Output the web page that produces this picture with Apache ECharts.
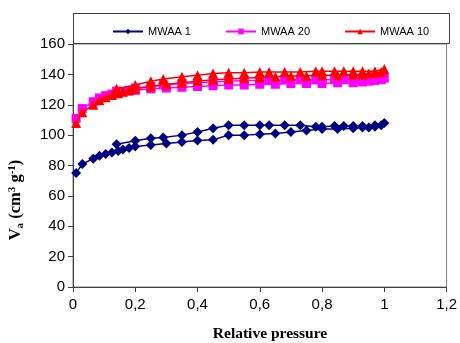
<!DOCTYPE html>
<html><head><meta charset="utf-8">
<script src="https://cdn.jsdelivr.net/npm/echarts@6/dist/echarts.min.js"></script>
<style>html,body{margin:0;padding:0;background:#fff}#c{width:460px;height:343px}</style>
</head><body><div id="c"></div>
<script>
const seriesNames = ['MWAA 1', 'MWAA 20', 'MWAA 10'];
const xTicks = [0, 0.2, 0.4, 0.6, 0.8, 1, 1.2];
const yTicks = [0, 20, 40, 60, 80, 100, 120, 140, 160];
// adsorption branch relative pressures
const pAds = [0.01,0.03,0.065,0.085,0.105,0.125,0.145,0.16,0.18,0.2,0.25,0.3,0.35,0.4,0.45,0.5,0.55,0.6,0.65,0.7,0.75,0.8,0.85,0.9,0.93,0.95,0.97,0.99,1.0];
// desorption branch relative pressures
const pDes = [0.97,0.93,0.9,0.87,0.84,0.8,0.78,0.73,0.68,0.63,0.6,0.55,0.5,0.45,0.4,0.35,0.29,0.25,0.2,0.14];
const mwaa1Ads = [75,81,84.5,86.5,87.5,88.5,89.5,90.5,91.5,92.5,93.5,94.5,95.5,96.5,97,100,100,100.5,101,102,103,104,104,104.5,105,105,105.5,106.5,108];
const mwaa1Des = [106.5,106,106,106,106,105.5,105.5,106.5,106.5,106.5,106.5,106.5,106.5,104.5,102,100,98.5,98,96.3,94];
const mwaa20Ads = [111,117.5,122,124.5,126,127,128,128.5,129,129.5,130.5,131,131.5,132,132.5,133,133,133.5,133.5,134,134,134,134.5,134.5,135,135.5,136,136.5,137.5];
const mwaa20Des = [137,136.5,136.5,136.5,136.5,136.5,136.5,136.5,136.5,136,136,136,135.5,135,134.5,134,133,132,131,129];
const mwaa10Ads = [108,115,120,123,125,126.5,127.5,128.5,129.5,130.5,132,133.5,134.5,135.5,136.5,137,137.5,138,138.5,139,139,139.5,139.5,140,140,140.5,141,141.5,143.5];
const mwaa10Des = [142,142,142,142,142,142,142,141.5,141.5,141.5,141.5,141,141,140.5,139.5,138.5,137,135.5,133,130.5];

function build(ads, des) {
  const d = [];
  pAds.forEach((p, i) => d.push([p, ads[i]]));
  pDes.forEach((p, i) => d.push([p, des[i]]));
  return d;
}
const styles = [
  {color: '#000080', symbol: 'diamond', size: 10},
  {color: '#FF00FF', symbol: 'rect', size: 9},
  {color: '#FF0000', symbol: 'triangle', size: 10}
];
const datas = [build(mwaa1Ads, mwaa1Des), build(mwaa20Ads, mwaa20Des), build(mwaa10Ads, mwaa10Des)];

const chart = echarts.init(document.getElementById('c'), null, {renderer: 'canvas'});
chart.setOption({
  animation: false,
  backgroundColor: '#fff',
  grid: {left: 73, right: 12, top: 44, bottom: 56, show: true, borderColor: '#808080', borderWidth: 1},
  legend: {
    left: 107, top: 21, itemWidth: 30, itemHeight: 7, itemGap: 34,
    textStyle: {fontFamily: 'Liberation Sans', fontSize: 11, color: '#000'},
    data: seriesNames
  },
  graphic: [
    {type: 'rect', shape: {x: 73.5, y: 13.5, width: 376, height: 30}, style: {fill: 'none', stroke: '#404040', lineWidth: 1}, z: 0, silent: true},
    {type: 'text', x: 16, y: 200, rotation: Math.PI / 2,
     style: {
       text: '{b|V}{s|a}{b| (cm}{p|3}{b| g}{p|-1}{b|)}',
       align: 'center', verticalAlign: 'middle',
       rich: {
         b: {fontFamily: 'Liberation Serif', fontWeight: 'bold', fontSize: 16.5, lineHeight: 19, verticalAlign: 'middle', fill: '#000'},
         s: {fontFamily: 'Liberation Serif', fontWeight: 'bold', fontSize: 11, lineHeight: 10, verticalAlign: 'bottom', fill: '#000'},
         p: {fontFamily: 'Liberation Serif', fontWeight: 'bold', fontSize: 11, lineHeight: 10, verticalAlign: 'top', fill: '#000'}
       }
     }},
    {type: 'text', x: 270, y: 334,
     style: {text: 'Relative pressure', align: 'center', verticalAlign: 'middle', fontFamily: 'Liberation Serif', fontWeight: 'bold', fontSize: 15.5, fill: '#000'}}
  ],
  xAxis: {
    type: 'value', min: xTicks[0], max: xTicks[xTicks.length - 1], interval: 0.2,
    axisLine: {show: true, onZero: false, lineStyle: {color: '#404040', width: 1}},
    axisTick: {show: true, inside: false, length: 5, lineStyle: {color: '#404040'}},
    splitLine: {show: false},
    axisLabel: {color: '#000', fontFamily: 'Liberation Sans', fontSize: 15, margin: 10,
      formatter: v => (Math.round(v * 10) / 10).toString().replace('.', ',')}
  },
  yAxis: {
    type: 'value', min: yTicks[0], max: yTicks[yTicks.length - 1], interval: 20,
    axisLine: {show: true, lineStyle: {color: '#404040', width: 1}},
    axisTick: {show: true, inside: false, length: 5, lineStyle: {color: '#404040'}},
    splitLine: {show: false},
    axisLabel: {color: '#000', fontFamily: 'Liberation Sans', fontSize: 15, margin: 8}
  },
  series: seriesNames.map((n, i) => ({
    name: n, type: 'line', data: datas[i],
    symbol: styles[i].symbol, symbolSize: styles[i].size,
    itemStyle: {color: styles[i].color},
    lineStyle: {color: styles[i].color, width: 1.5},
    z: 2 + i
  }))
});
</script></body></html>
